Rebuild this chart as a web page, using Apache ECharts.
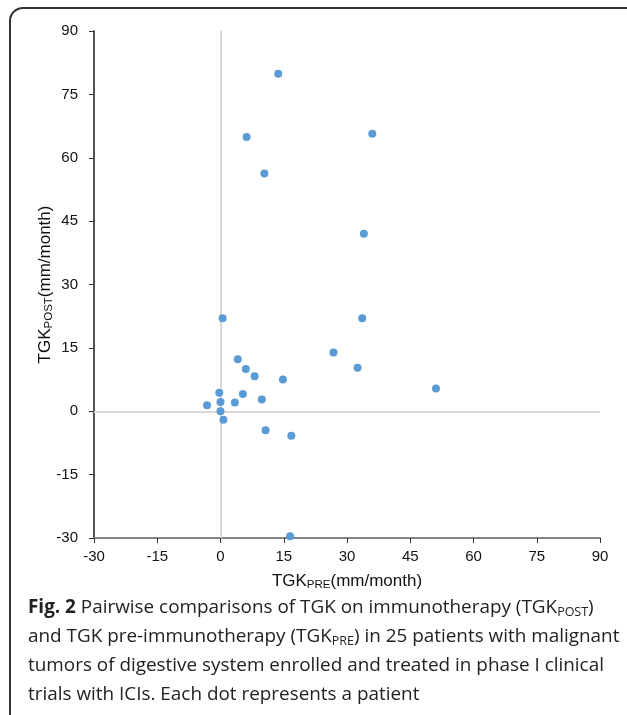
<!DOCTYPE html>
<html>
<head>
<meta charset="utf-8">
<script src="https://cdn.jsdelivr.net/npm/echarts@6/dist/echarts.min.js"></script>
<style>
  html, body { margin: 0; padding: 0; background: #fff; overflow: hidden; }
  #wrap { position: relative; width: 627px; height: 715px; overflow: hidden; }
  #frame {
    position: absolute; left: 9px; top: 7px; width: 680px; height: 760px;
    border: 2px solid #333; border-radius: 14px; box-sizing: border-box;
  }
  #chart { position: absolute; left: 0; top: 0; width: 627px; height: 600px; }
  #caption {
    position: absolute; left: 28px; top: 592px; width: 600px; white-space: nowrap;
    font-family: "Open Sans", sans-serif; font-size: 18.9px; line-height: 29px;
    color: #222;
  }
  #caption b { font-weight: 700; }
  #caption sub { font-size: 12.5px; vertical-align: -3px; line-height: 0; }
</style>
</head>
<body>
<div id="wrap">
  <div id="frame"></div>
  <div id="chart"></div>
  <div id="caption"><b>Fig. 2</b> Pairwise comparisons of TGK on immunotherapy (TGK<sub>POST</sub>)<br>and TGK pre-immunotherapy (TGK<sub>PRE</sub>) in 25 patients with malignant<br>tumors of digestive system enrolled and treated in phase I clinical<br>trials with ICIs. Each dot represents a patient</div>
</div>
<script>
// TGK pre-immunotherapy (x) and on immunotherapy (y), mm/month
var tgkPre  = [13.7, 6.2, 36.0, 10.4, 34.0, 0.5, 33.6, 26.8, 4.1, 6.0, 8.1, 14.8, 32.5,
               51.1, -0.3, 5.3, 0.0, 3.4, 9.8, -3.2, 0.0, 0.7, 10.7, 16.8, 16.5];
var tgkPost = [79.9, 64.9, 65.7, 56.3, 42.0, 22.0, 22.0, 13.9, 12.3, 10.0, 8.3, 7.5, 10.3,
               5.4, 4.4, 4.1, 2.2, 2.1, 2.8, 1.4, 0.0, -2.0, -4.5, -5.8, -29.6];

var axisMin = -30, axisMax = 90, axisStep = 15;

var points = tgkPre.map(function (x, i) { return [x, tgkPost[i]]; });

var chart = echarts.init(document.getElementById('chart'));
var fontFam = 'Liberation Sans, Arial, sans-serif';
var labelFont = { fontFamily: fontFam, fontSize: 15, color: '#111' };
var nameStyle = {
  fontFamily: fontFam, fontSize: 17, color: '#111',
  rich: { sub: { fontFamily: fontFam, fontSize: 11.5, color: '#111', padding: [8, 0, 0, 0] } }
};

chart.setOption({
  animation: false,
  grid: { left: 94, top: 31, width: 506, height: 507 },
  xAxis: {
    type: 'value', min: axisMin, max: axisMax, interval: axisStep,
    name: 'TGK{sub|PRE}(mm/month)', nameLocation: 'middle', nameGap: 33,
    nameMoveOverlap: false,
    nameTextStyle: nameStyle,
    axisLine: { onZero: false, lineStyle: { color: '#858585', width: 2 } },
    axisTick: { show: true, length: 5, lineStyle: { color: '#333', width: 1 } },
    axisLabel: Object.assign({ margin: 11 }, labelFont),
    splitLine: { show: false }
  },
  yAxis: {
    type: 'value', min: axisMin, max: axisMax, interval: axisStep,
    name: 'TGK{sub|POST}(mm/month)', nameLocation: 'middle', nameGap: 39, nameRotate: 90,
    nameMoveOverlap: false,
    nameTextStyle: nameStyle,
    axisLine: { onZero: false, lineStyle: { color: '#555', width: 2 } },
    axisTick: { show: true, length: 5, lineStyle: { color: '#333', width: 1 } },
    axisLabel: Object.assign({ margin: 16 }, labelFont),
    splitLine: { show: false }
  },
  series: [{
    type: 'scatter',
    data: points,
    symbolSize: 8,
    itemStyle: { color: '#5b9bd5', opacity: 1 },
    z: 3,
    markLine: {
      silent: true, symbol: 'none', z: 1,
      label: { show: false },
      lineStyle: { color: '#d9d9d9', type: 'solid', width: 2 },
      data: [{ xAxis: 0 }, { yAxis: 0 }]
    }
  }]
});
</script>
</body>
</html>
